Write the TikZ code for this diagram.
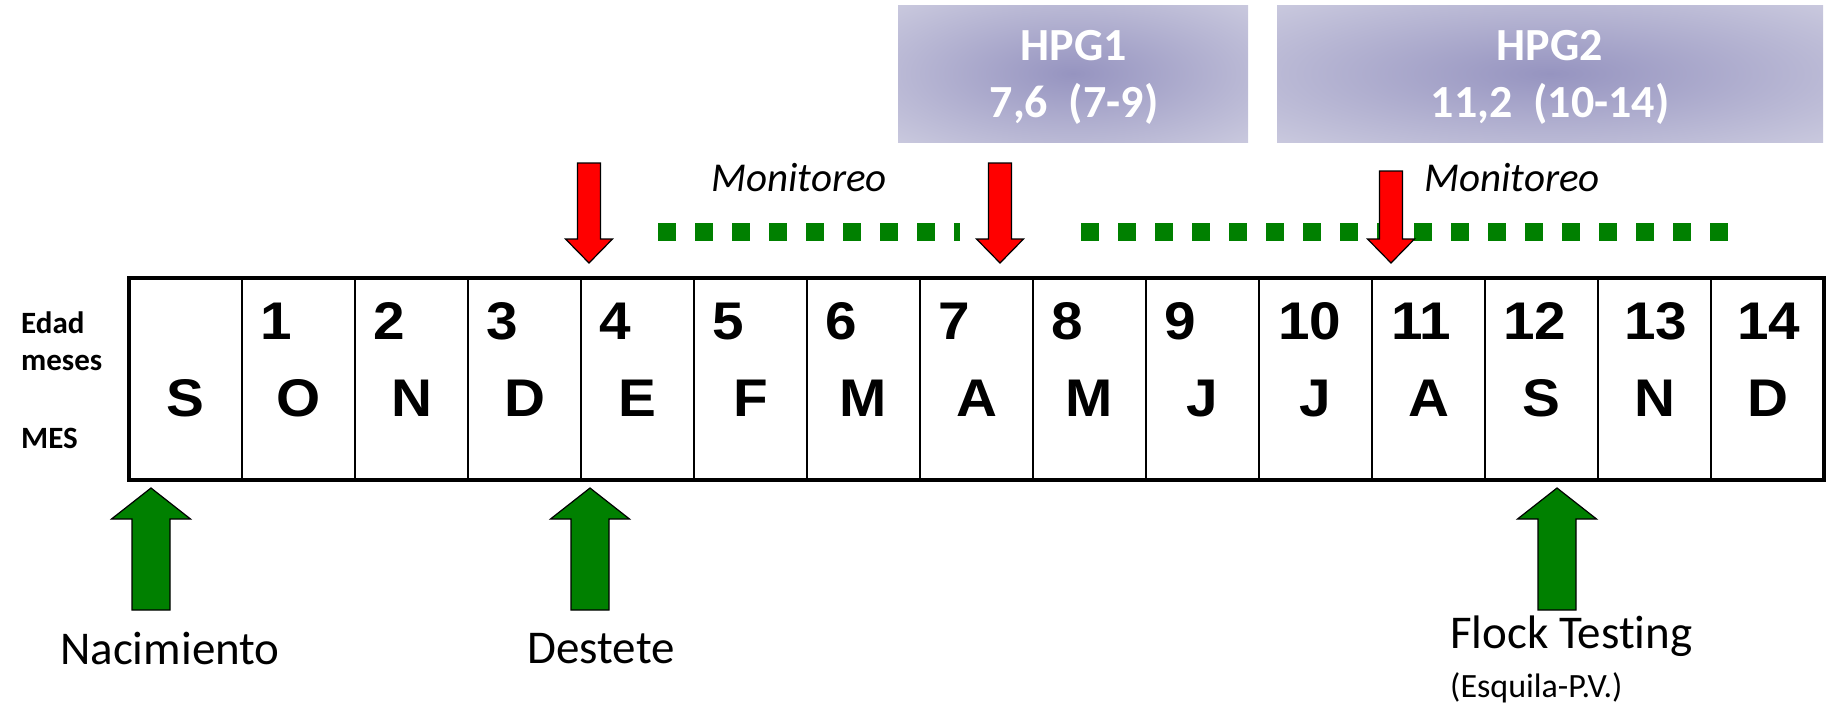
\documentclass[tikz,border=0pt]{standalone}
\usepackage{fontspec}
\setmainfont{Carlito}[Ligatures=NoCommon]
\newfontfamily\cellfont{Liberation Sans}[FakeStretch=1.07]

\definecolor{arrowred}{RGB}{255,0,0}
\definecolor{markgreen}{RGB}{0,128,0}
\definecolor{hpgin}{RGB}{150,148,192}
\definecolor{hpgout}{RGB}{222,222,234}

\pgfdeclareradialshading{hpgglow}{\pgfpoint{0bp}{0bp}}{color(0bp)=(hpgin); color(50bp)=(hpgout)}

\tikzset{
  cell/.style={draw, line width=2.5pt, minimum width=113pt, minimum height=202pt,
    inner sep=0pt, outer sep=0pt},
  monthlbl/.style={font=\cellfont\bfseries\fontsize{53}{60}\selectfont, inner sep=0pt},
  agelbl/.style={font=\cellfont\bfseries\fontsize{53}{60}\selectfont, inner sep=0pt},
  sidelbl/.style={font=\bfseries\fontsize{31}{36}\selectfont, inner sep=0pt},
  eventlbl/.style={font=\fontsize{47}{54}\selectfont, inner sep=0pt},
  notelbl/.style={font=\fontsize{34}{40}\selectfont, inner sep=0pt},
  monlbl/.style={font=\itshape\fontsize{41}{48}\selectfont, inner sep=0pt},
  hpgbox/.style={shading=hpgglow, minimum height=137pt, inner sep=0pt, outer sep=0pt},
  hpgtxt/.style={text=white, font=\bfseries\fontsize{46}{54}\selectfont, inner sep=0pt},
  redfill/.style={fill=arrowred, draw=black, line width=1.2pt, line join=miter},
  greenfill/.style={fill=markgreen, draw=black, line width=1.2pt, line join=miter},
  monbar/.style={draw=markgreen, line width=18pt, dash pattern=on 18pt off 19pt},
  pics/downarrow/.style={code={
    \draw[redfill] (-11.5,-#1) -- (11.5,-#1) -- (11.5,-24) -- (23.5,-24) -- (0,0)
      -- (-23.5,-24) -- (-11.5,-24) -- cycle;}},
  pics/uparrow/.style={code={
    \draw[greenfill] (-19,122) -- (19,122) -- (19,31) -- (39.5,31) -- (0,0)
      -- (-39.5,31) -- (-19,31) -- cycle;}}
}

\begin{document}
\begin{tikzpicture}[x=1pt,y=-1pt]
\useasboundingbox (0,0) rectangle (1835,704);

% HPG boxes
\node[hpgbox, minimum width=350pt] (hpg1) at (1073,73.5) {};
\node[hpgbox, minimum width=546pt] (hpg2) at (1550,73.5) {};
\node[hpgtxt, anchor=base] (hpg1a) at (1074,60) {HPG1};
\node[hpgtxt, anchor=base] (hpg1b) at (1074,117) {7,6\ \ (7-9)};
\node[hpgtxt, anchor=base] (hpg2a) at (1550,60) {HPG2};
\node[hpgtxt, anchor=base] (hpg2b) at (1550,117) {11,2\ \ (10-14)};

% monitoring periods
\node[monlbl, anchor=base] (mon1) at (799,191) {Monitoreo};
\node[monlbl, anchor=base] (mon2) at (1512,191) {Monitoreo};
\coordinate (bar1s) at (658,232);
\coordinate (bar1e) at (960,232);
\coordinate (bar2s) at (1081,232);
\coordinate (bar2e) at (1729,232);
\draw[monbar] (bar1s) -- (bar1e);
\draw[monbar] (bar2s) -- (bar2e);

% month cells
\foreach \m [count=\k from 0] in {S,O,N,D,E,F,M,A,M,J,J,A,S,N,D} {
  \node[cell] (c\k) at ({185.5+113*\k},379) {};
  \node[monthlbl, anchor=base] (m\k) at ({185.5+113*\k},416) {\m};
}
\foreach \n/\dx in {1/18,2/18,3/18,4/18,5/18,6/18,7/18,8/18,9/18,10/19,11/19,12/18,13/26,14/26}
  \node[agelbl, anchor=base west] (a\n) at ({129+113*\n+\dx},339) {\n};
\draw[line width=4.5pt] (c0.north west) rectangle (c14.south east);

% row captions
\node[sidelbl, anchor=base west] (edad) at (21,333) {Edad};
\node[sidelbl, anchor=base west] (meses) at (21,370) {meses};
\node[sidelbl, anchor=base west] (mes) at (21,448) {MES};

% sampling points
\pic at (589,263) {downarrow=100};
\pic at (1000,263) {downarrow=100};
\pic at (1391,263) {downarrow=92};

% events
\pic at (151,488) {uparrow};
\pic at (590,488) {uparrow};
\pic at (1557,488) {uparrow};
\node[eventlbl, anchor=base] (nac) at (170,664) {Nacimiento};
\node[eventlbl, anchor=base] (des) at (601,663) {Destete};
\node[eventlbl, anchor=base west] (flock) at (1450,648) {Flock Testing};
\node[notelbl, anchor=base west] (esq) at (1450,697) {(Esquila-P.V.)};
\end{tikzpicture}
\end{document}
